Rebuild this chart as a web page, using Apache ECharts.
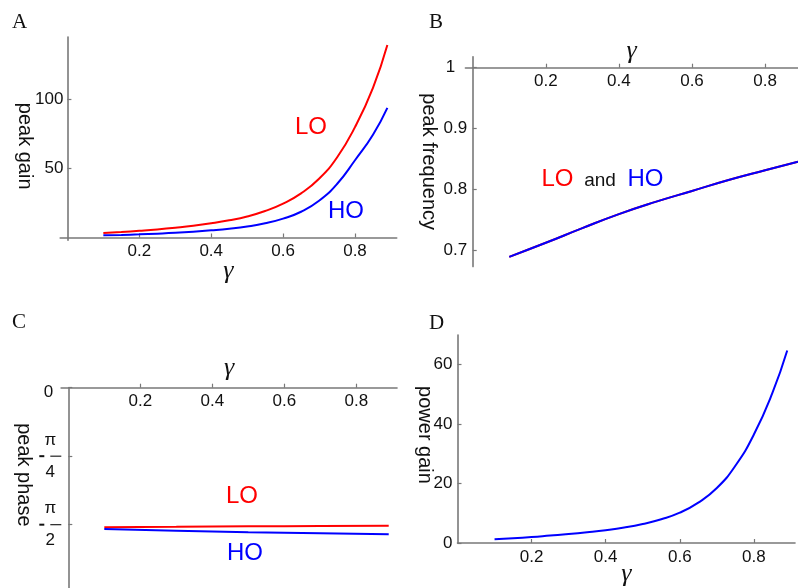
<!DOCTYPE html>
<html>
<head>
<meta charset="utf-8">
<script src="https://cdn.jsdelivr.net/npm/echarts@6/dist/echarts.min.js"></script>
<style>
  html, body { margin: 0; padding: 0; background: #fff; }
  #chart { width: 798px; height: 588px; }
</style>
</head>
<body>
<div id="chart"></div>
<script>
// ---- data -------------------------------------------------------------
// γ samples for the gain and power panels
const gammaGain  = [0.1, 0.15, 0.2, 0.25, 0.3, 0.35, 0.4, 0.45, 0.5, 0.55, 0.6, 0.65, 0.7, 0.75, 0.8, 0.85, 0.89];
const peakGainLO = [3.2, 4.0, 4.9, 5.9, 7.1, 8.5, 10.3, 12.5, 15.3, 19.2, 24.6, 32.0, 42.6, 58.0, 80.0, 108.5, 139.5];
const peakGainHO = [1.6, 1.9, 2.3, 2.8, 3.4, 4.2, 5.2, 6.4, 8.0, 10.3, 13.7, 18.7, 26.6, 38.8, 56.0, 74.5, 94.0];
const powerGain  = [1.3, 1.6, 2.0, 2.5, 3.0, 3.6, 4.3, 5.2, 6.4, 8.0, 10.2, 13.6, 18.5, 26.0, 36.5, 50.5, 64.8];

// peak frequency is the same for LO and HO
const gammaFreq = [0.1, 0.2, 0.3, 0.4, 0.5, 0.6, 0.7, 0.8, 0.89];
const peakFreq  = [0.690, 0.713, 0.737, 0.760, 0.780, 0.798, 0.816, 0.832, 0.846];

// peak phase (radians)
const gammaPhase  = [0.1, 0.3, 0.5, 0.7, 0.89];
const peakPhaseLO = [-1.601, -1.596, -1.590, -1.586, -1.583];
const peakPhaseHO = [-1.620, -1.640, -1.657, -1.670, -1.681];

// tick positions
const gammaTicks = [0.2, 0.4, 0.6, 0.8];
const gainTicks  = [50, 100];
const freqTicks  = [0.7, 0.8, 0.9, 1];
const phaseTicks = [0, -Math.PI / 4, -Math.PI / 2];
const powerTicks = [0, 20, 40, 60];

// ---- styling helpers ---------------------------------------------------
const SANS = '"Liberation Sans", Arial, Helvetica, sans-serif';
const SERIF = '"Liberation Serif", "Times New Roman", serif';
const AXIS_GRAY = '#787878';
const TEXT = '#111';
const RED = '#ff0000';
const BLUE = '#0000ff';

const pairs = (xs, ys) => xs.map((x, i) => [x, ys[i]]);

// horizontal γ axis; offset shifts the line from the grid edge onto y = 0 / y = 1
function gammaAxis(gridIndex, min, max, o) {
  return {
    type: 'value', gridIndex, min, max,
    position: o.position, offset: o.offset || 0,
    name: 'γ', nameLocation: 'middle', nameGap: o.nameGap,
    nameMoveOverlap: false,
    nameTextStyle: { fontFamily: SERIF, fontStyle: 'italic', fontSize: 26, color: TEXT },
    axisLine: { show: true, onZero: false, lineStyle: { color: AXIS_GRAY, width: 1.6 } },
    axisTick: { show: true, inside: o.tickInside, length: 4, customValues: gammaTicks,
                lineStyle: { color: AXIS_GRAY, width: 1.2 } },
    axisLabel: { show: true, inside: o.labelInside, margin: 5.5, customValues: gammaTicks,
                 formatter: v => v.toFixed(1),
                 color: TEXT, fontFamily: SANS, fontSize: 17 },
    splitLine: { show: false }
  };
}

// vertical axis; offset places it at γ = 0
function valueAxis(gridIndex, min, max, o) {
  return {
    type: 'value', gridIndex, min, max,
    position: 'left', offset: o.offset || 0,
    name: o.name, nameLocation: 'middle', nameGap: o.nameGap, nameRotate: -90,
    nameMoveOverlap: false,
    nameTextStyle: { fontFamily: SANS, fontSize: 20, color: TEXT, padding: o.namePadding || 0 },
    axisLine: { show: true, onZero: false, lineStyle: { color: AXIS_GRAY, width: 1.6 } },
    axisTick: { show: true, inside: true, length: 4, customValues: o.ticks,
                lineStyle: { color: AXIS_GRAY, width: 1.2 } },
    axisLabel: { show: true, margin: o.margin, customValues: o.ticks,
                 formatter: o.formatter, rich: o.rich,
                 color: TEXT, fontFamily: SANS, fontSize: 17 },
    splitLine: { show: false }
  };
}

function curve(xi, data, color) {
  return {
    type: 'line', xAxisIndex: xi, yAxisIndex: xi, data,
    smooth: true, symbol: 'none', silent: true,
    lineStyle: { color, width: 2 }
  };
}

// labels for −π/4, −π/2 drawn as stacked fractions
function phaseLabel(v) {
  if (v === 0) return '{z|0}';
  const den = Math.round(Math.PI / -v);
  return '{n|π}\n{mi|}{sp|}{bar|}\n{n|' + den + '}';
}
const phaseRich = {
  z:   { fontFamily: SANS, fontSize: 17, color: TEXT, padding: [10, 8, 0, 0] },
  n:   { fontFamily: SANS, fontSize: 17, color: TEXT, width: 11, align: 'center', lineHeight: 18 },
  mi:  { width: 5, height: 2, backgroundColor: '#111', lineHeight: 14 },
  sp:  { width: 6, height: 2, lineHeight: 14 },
  bar: { width: 11, height: 1.2, backgroundColor: '#222', lineHeight: 14 }
};

const option = {
  animation: false,
  backgroundColor: '#fff',
  grid: [
    { left: 60.2,  top: 37,    width: 336.5, height: 203.3 },
    { left: 465.4, top: 56.7,  width: 332.6, height: 209.9 },
    { left: 61.1,  top: 387.7, width: 335.9, height: 200.3 },
    { left: 457.5, top: 335,   width: 337.5, height: 212.3 }
  ],
  xAxis: [
    gammaAxis(0, -0.02, 0.916, { position: 'bottom', offset: -2.8,
                                 tickInside: true, labelInside: false, nameGap: 21 }),
    gammaAxis(1, -0.02, 0.89,  { position: 'top', offset: -11,
                                 tickInside: false, labelInside: true, nameGap: 4 }),
    gammaAxis(2, -0.02, 0.913, { position: 'top', tickInside: false, labelInside: true, nameGap: 6.5 }),
    gammaAxis(3, 0, 0.911,     { position: 'bottom', tickInside: true, labelInside: false, nameGap: 18 })
  ],
  yAxis: [
    valueAxis(0, -2, 145.3, { name: 'peak gain', offset: -7.2, nameGap: 32.4, namePadding: [0, 0, 0, 15],
                              ticks: gainTicks, margin: 4 }),
    valueAxis(1, 0.674, 1.018, { name: 'peak frequency', offset: -7.3, nameGap: 33.7,
                                 ticks: freqTicks, margin: 5.5,
                                 formatter: v => v === 1 ? '{one|1}' : v.toFixed(1),
                                 rich: { one: { fontFamily: SANS, fontSize: 17, color: TEXT, padding: [0, 12, 0, 0] } } }),
    valueAxis(2, -2.297, 0, { name: 'peak phase', offset: -7.2, nameGap: 34.8, namePadding: [0, 26, 0, 0],
                              ticks: phaseTicks, margin: 7,
                              formatter: phaseLabel, rich: phaseRich }),
    valueAxis(3, 0, 70, { name: 'power gain', nameGap: 23, namePadding: [0, 8, 0, 0],
                          ticks: powerTicks, margin: 5,
                          formatter: v => String(v) })
  ],
  series: [
    curve(0, pairs(gammaGain, peakGainLO), RED),
    curve(0, pairs(gammaGain, peakGainHO), BLUE),
    curve(1, pairs(gammaFreq, peakFreq), RED),
    curve(1, pairs(gammaFreq, peakFreq), BLUE),
    curve(2, pairs(gammaPhase, peakPhaseLO), RED),
    curve(2, pairs(gammaPhase, peakPhaseHO), BLUE),
    curve(3, pairs(gammaGain, powerGain), BLUE)
  ],
  graphic: [
    // panel letters
    { type: 'text', left: 12,  top: 12,  style: { text: 'A', font: '21px ' + SERIF, fill: TEXT } },
    { type: 'text', left: 429, top: 12,  style: { text: 'B', font: '21px ' + SERIF, fill: TEXT } },
    { type: 'text', left: 12,  top: 312, style: { text: 'C', font: '21px ' + SERIF, fill: TEXT } },
    { type: 'text', left: 429, top: 313, style: { text: 'D', font: '21px ' + SERIF, fill: TEXT } },
    // curve annotations
    { type: 'text', x: 311, y: 127, style: { text: 'LO', font: '24px ' + SANS, fill: RED,  align: 'center', verticalAlign: 'middle' } },
    { type: 'text', x: 346, y: 211, style: { text: 'HO', font: '24px ' + SANS, fill: BLUE, align: 'center', verticalAlign: 'middle' } },
    { type: 'text', x: 557.5, y: 179, style: { text: 'LO',  font: '24px ' + SANS, fill: RED,  align: 'center', verticalAlign: 'middle' } },
    { type: 'text', x: 600,   y: 181, style: { text: 'and', font: '19px ' + SANS, fill: TEXT, align: 'center', verticalAlign: 'middle' } },
    { type: 'text', x: 645.5, y: 179, style: { text: 'HO',  font: '24px ' + SANS, fill: BLUE, align: 'center', verticalAlign: 'middle' } },
    { type: 'text', x: 242, y: 496, style: { text: 'LO', font: '24px ' + SANS, fill: RED,  align: 'center', verticalAlign: 'middle' } },
    { type: 'text', x: 245, y: 553, style: { text: 'HO', font: '24px ' + SANS, fill: BLUE, align: 'center', verticalAlign: 'middle' } }
  ]
};

const chart = echarts.init(document.getElementById('chart'), null, { renderer: 'canvas' });
chart.setOption(option);
</script>
</body>
</html>
